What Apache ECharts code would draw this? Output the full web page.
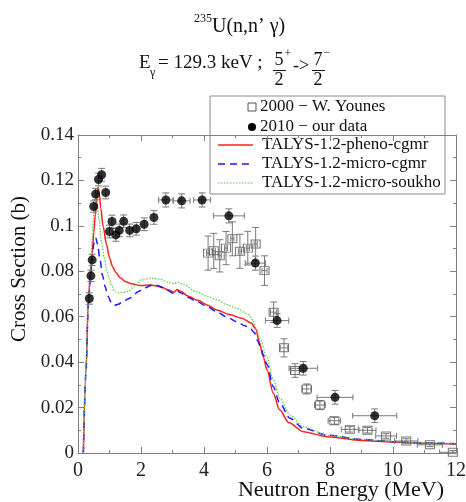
<!DOCTYPE html>
<html>
<head>
<meta charset="utf-8">
<script src="https://cdn.jsdelivr.net/npm/echarts@6/dist/echarts.min.js"></script>
<style>
  html, body { margin: 0; padding: 0; background: #fff; }
  #chart { width: 466px; height: 502px; }
</style>
</head>
<body>
<div id="chart"></div>
<script>
// 235U(n,n' gamma) 129.3 keV line: measured points and TALYS-1.2 calculations

// 2000 - W. Younes: [energy MeV, cross section b, energy half-width, sigma error]
const younesX    = [4.13, 4.31, 4.50, 4.70, 4.90, 5.14, 5.39, 5.64, 5.92, 6.21, 6.54, 6.89, 7.26, 7.68, 8.14, 8.63, 9.19, 9.78, 10.42, 11.17, 11.90];
const younesY    = [0.0880, 0.0890, 0.0868, 0.0902, 0.0943, 0.0888, 0.0902, 0.0920, 0.0803, 0.0620, 0.0463, 0.0363, 0.0282, 0.0211, 0.0142, 0.0104, 0.0100, 0.0075, 0.0053, 0.0036, 0.0003];
const younesXErr = [0.05, 0.05, 0.05, 0.05, 0.05, 0.05, 0.05, 0.05, 0.08, 0.10, 0.12, 0.13, 0.15, 0.17, 0.20, 0.27, 0.27, 0.33, 0.37, 0.40, 0.42];
const younesYErr = [0.0075, 0.0077, 0.0071, 0.0073, 0.0075, 0.0075, 0.0074, 0.0073, 0.0065, 0.0045, 0.0040, 0.0030, 0.0022, 0.0020, 0.0015, 0.0012, 0.0012, 0.0010, 0.0010, 0.0008, 0.0008];

// 2010 - our data
const ourX    = [0.36, 0.41, 0.45, 0.50, 0.56, 0.65, 0.75, 0.88, 1.00, 1.08, 1.20, 1.31, 1.45, 1.64, 1.85, 2.10, 2.41, 2.79, 3.29, 3.94, 4.79, 5.63, 6.32, 7.15, 8.16, 9.42];
const ourY    = [0.0680, 0.0780, 0.0850, 0.1085, 0.1140, 0.1204, 0.1225, 0.1147, 0.0975, 0.1019, 0.0960, 0.0980, 0.1020, 0.0980, 0.0987, 0.1007, 0.1037, 0.1114, 0.1110, 0.1114, 0.1044, 0.0836, 0.0583, 0.0373, 0.0245, 0.0164];
const ourXErr = [0, 0, 0, 0, 0, 0, 0, 0, 0, 0, 0, 0, 0, 0, 0, 0, 0, 0.23, 0.27, 0.27, 0.49, 0.32, 0.37, 0.45, 0.57, 0.70];
const ourYErr = [0.0025, 0.0025, 0.0025, 0.0025, 0.0025, 0.0028, 0.0028, 0.0028, 0.0028, 0.0028, 0.0028, 0.0028, 0.0028, 0.0028, 0.0028, 0.0028, 0.0030, 0.0031, 0.0031, 0.0031, 0.0031, 0.0031, 0.0030, 0.0030, 0.0030, 0.0030];

// TALYS-1.2-pheno-cgmr
const phenoE  = [0.17, 0.25, 0.33, 0.40, 0.45, 0.50, 0.55, 0.60, 0.64, 0.68, 0.72, 0.80, 0.90, 1.00, 1.10, 1.20, 1.35, 1.50, 1.70, 2.00, 2.30, 2.60, 2.90, 3.05, 3.15, 3.25, 3.50, 3.80, 4.10, 4.40, 4.80, 5.20, 5.50, 5.65, 5.75, 5.88, 6.00, 6.20, 6.40, 6.70, 7.15, 7.90, 9.00, 10.0, 11.0, 12.0];
const phenoXS = [0.0, 0.035, 0.068, 0.080, 0.088, 0.097, 0.105, 0.113, 0.117, 0.114, 0.108, 0.0997, 0.092, 0.086, 0.082, 0.0795, 0.077, 0.0755, 0.0745, 0.0737, 0.0740, 0.0733, 0.0717, 0.0708, 0.0720, 0.0713, 0.0690, 0.0672, 0.0652, 0.0630, 0.0610, 0.0593, 0.0572, 0.0545, 0.0490, 0.0424, 0.0366, 0.0263, 0.0190, 0.0133, 0.0094, 0.0072, 0.0055, 0.0048, 0.0043, 0.0040];

// TALYS-1.2-micro-cgmr
const microE  = [0.17, 0.25, 0.33, 0.40, 0.45, 0.50, 0.56, 0.62, 0.70, 0.78, 0.86, 0.95, 1.07, 1.15, 1.28, 1.45, 1.70, 1.90, 2.13, 2.40, 2.70, 3.03, 3.15, 3.25, 3.50, 3.77, 4.10, 4.40, 4.70, 5.04, 5.30, 5.46, 5.60, 5.70, 5.80, 5.88, 6.00, 6.20, 6.40, 6.73, 7.15, 7.90, 9.00, 10.0, 11.0, 12.0];
const microXS = [0.0, 0.035, 0.066, 0.078, 0.086, 0.092, 0.0948, 0.092, 0.085, 0.078, 0.0733, 0.069, 0.066, 0.065, 0.0655, 0.067, 0.0685, 0.071, 0.0728, 0.0742, 0.0728, 0.0703, 0.0715, 0.0705, 0.0685, 0.0667, 0.0645, 0.0622, 0.0600, 0.0578, 0.0560, 0.0550, 0.0530, 0.0495, 0.0465, 0.0432, 0.0390, 0.0292, 0.0220, 0.0153, 0.0109, 0.0079, 0.0060, 0.0050, 0.0044, 0.0041];

// TALYS-1.2-micro-soukho
const soukhoE  = [0.17, 0.25, 0.33, 0.40, 0.45, 0.50, 0.55, 0.60, 0.66, 0.75, 0.83, 0.91, 1.00, 1.07, 1.18, 1.30, 1.45, 1.60, 1.80, 2.02, 2.30, 2.60, 2.90, 3.05, 3.15, 3.30, 3.77, 4.10, 4.40, 4.70, 5.04, 5.40, 5.55, 5.65, 5.80, 5.99, 6.20, 6.41, 6.73, 7.15, 7.90, 9.00, 10.0, 11.0, 12.0];
const soukhoXS = [0.0, 0.035, 0.068, 0.082, 0.094, 0.105, 0.112, 0.111, 0.103, 0.0924, 0.086, 0.0806, 0.0765, 0.0735, 0.0710, 0.0705, 0.0707, 0.0712, 0.0735, 0.0762, 0.0770, 0.0765, 0.0750, 0.0745, 0.0752, 0.0745, 0.0710, 0.0690, 0.0674, 0.0655, 0.0637, 0.0612, 0.0585, 0.0550, 0.0495, 0.0424, 0.0322, 0.0241, 0.0167, 0.0116, 0.0079, 0.0060, 0.0050, 0.0044, 0.0041];

const xTickLabels = ['0', '2', '4', '6', '8', '10', '12'];
const yTickLabels = ['0', '0.02', '0.04', '0.06', '0.08', '0.1', '0.12', '0.14'];

const seriesNames = ['2000 \u2212 W. Younes', '2010 \u2212 our data', 'TALYS-1.2-pheno-cgmr', 'TALYS-1.2-micro-cgmr', 'TALYS-1.2-micro-soukho'];

const SERIF = '"Liberation Serif", "Times New Roman", serif';
const BAR_COLOR = '#7a7a7a';

const zip = (a, b) => a.map((v, i) => [v, b[i]]);
const zip4 = (a, b, c, d) => a.map((v, i) => [v, b[i], c[i], d[i]]);

// error bars with end caps, drawn in data coordinates
function errorBars(params, api) {
  const x = api.value(0), y = api.value(1), dx = api.value(2), dy = api.value(3);
  const c = api.coord([x, y]);
  const kids = [];
  const st = { stroke: BAR_COLOR, lineWidth: 1 };
  if (dy > 0) {
    const top = api.coord([x, y + dy]), bot = api.coord([x, y - dy]);
    kids.push({ type: 'line', shape: { x1: c[0], y1: top[1], x2: c[0], y2: bot[1] }, style: st });
    kids.push({ type: 'line', shape: { x1: c[0] - 3.5, y1: top[1], x2: c[0] + 3.5, y2: top[1] }, style: st });
    kids.push({ type: 'line', shape: { x1: c[0] - 3.5, y1: bot[1], x2: c[0] + 3.5, y2: bot[1] }, style: st });
  }
  if (dx > 0) {
    const l = api.coord([x - dx, y]), r = api.coord([x + dx, y]);
    kids.push({ type: 'line', shape: { x1: l[0], y1: c[1], x2: r[0], y2: c[1] }, style: st });
    kids.push({ type: 'line', shape: { x1: l[0], y1: c[1] - 3, x2: l[0], y2: c[1] + 3 }, style: st });
    kids.push({ type: 'line', shape: { x1: r[0], y1: c[1] - 3, x2: r[0], y2: c[1] + 3 }, style: st });
  }
  return { type: 'group', children: kids };
}

function axisCommon() {
  return {
    axisLine: { show: true, onZero: false, lineStyle: { color: '#808080', width: 1 } },
    axisTick: { show: true, inside: true, length: 6, lineStyle: { color: '#808080' } },
    minorTick: { show: true, splitNumber: 2, length: 3, lineStyle: { color: '#808080' } },
    splitLine: { show: false },
    minorSplitLine: { show: false }
  };
}

const labelFont = { fontFamily: SERIF, color: '#222' };

// legend drawn as a boxed key in the upper right
function legendGraphic() {
  const x0 = 210, y0 = 96, w = 235, h = 98;
  const rows = [107, 127, 145, 164, 183];
  const items = [
    { type: 'rect', shape: { x: x0, y: y0, width: w, height: h }, style: { fill: '#fff', stroke: '#8a8a8a', lineWidth: 1 } },
    { type: 'rect', shape: { x: 248, y: rows[0] - 4, width: 8, height: 8 }, style: { fill: '#fff', stroke: '#555', lineWidth: 1 } },
    { type: 'circle', shape: { cx: 252, cy: rows[1], r: 4 }, style: { fill: '#000' } },
    { type: 'line', shape: { x1: 218, y1: rows[2], x2: 253, y2: rows[2] }, style: { stroke: '#ff2020', lineWidth: 1.5 } },
    { type: 'line', shape: { x1: 218, y1: rows[3], x2: 253, y2: rows[3] }, style: { stroke: '#1a1aff', lineWidth: 1.5, lineDash: [7, 5] } },
    { type: 'line', shape: { x1: 218, y1: rows[4], x2: 253, y2: rows[4] }, style: { stroke: '#55cc44', lineWidth: 1.2, lineDash: [1.5, 1.5] } }
  ];
  seriesNames.forEach((n, i) => {
    items.push({
      type: 'text', x: i < 2 ? 260 : 262, y: rows[i],
      style: { text: n, font: '17px ' + SERIF, fill: '#111', textVerticalAlign: 'middle' }
    });
  });
  return { type: 'group', z: 100, children: items };
}

function titleGraphic() {
  const t = (text, x, y, size, align) => ({
    type: 'text', x, y,
    style: { text, font: size + 'px ' + SERIF, fill: '#111', textAlign: align || 'left', textVerticalAlign: 'middle' }
  });
  const bar = (x1, x2, y) => ({ type: 'line', shape: { x1, y1: y, x2, y2: y }, style: { stroke: '#111', lineWidth: 1 } });
  return {
    type: 'group', z: 100,
    children: [
      t('235', 194, 19, 12),
      t('U(n,n\u2019 \u03b3)', 212, 27, 20),
      t('E', 139, 63, 19),
      t('\u03b3', 150, 73, 12),
      t('= 129.3 keV ;', 158, 63, 19),
      t('5', 279, 60, 18, 'center'),
      t('+', 288, 54, 12, 'center'),
      bar(273, 286, 70.5),
      t('2', 279, 80, 18, 'center'),
      t('->', 293, 66, 18),
      t('7', 318, 60, 18, 'center'),
      t('\u2212', 327, 53, 12, 'center'),
      bar(312, 325, 70.5),
      t('2', 318, 80, 18, 'center')
    ]
  };
}

const chart = echarts.init(document.getElementById('chart'), null, { renderer: 'canvas' });

chart.setOption({
  backgroundColor: '#fff',
  animation: false,
  grid: { left: 78, right: 10, top: 135, bottom: 49, containLabel: false, outerBoundsMode: 'none' },
  xAxis: [
    Object.assign({
      type: 'value', min: 0, max: 12, interval: 2, position: 'bottom',
      name: 'Neutron Energy (MeV)', nameLocation: 'middle', nameGap: 26, nameMoveOverlap: false,
      nameTextStyle: { fontFamily: SERIF, fontSize: 22, color: '#111', padding: [0, 0, 0, 148] },
      axisLabel: Object.assign({ fontSize: 20, margin: 8, formatter: v => xTickLabels[Math.round(v / 2)] }, labelFont)
    }, axisCommon()),
    Object.assign({
      type: 'value', min: 0, max: 12, interval: 2, position: 'top', show: true,
      axisLabel: { show: false }
    }, axisCommon())
  ],
  yAxis: [
    Object.assign({
      type: 'value', min: 0, max: 0.14, interval: 0.02, position: 'left',
      name: 'Cross Section (b)', nameLocation: 'middle', nameGap: 48, nameRotate: 90, nameMoveOverlap: false,
      nameTextStyle: { fontFamily: SERIF, fontSize: 21, color: '#111', padding: [0, 0, 0, 50] },
      axisLabel: Object.assign({ fontSize: 19, margin: 4, formatter: v => yTickLabels[Math.round(v / 0.02)] }, labelFont)
    }, axisCommon()),
    Object.assign({
      type: 'value', min: 0, max: 0.14, interval: 0.02, position: 'right', show: true,
      axisLabel: { show: false }
    }, axisCommon())
  ],
  series: [
    {
      name: seriesNames[2], type: 'line', data: zip(phenoE, phenoXS), showSymbol: false,
      smooth: 0.3, smoothMonotone: 'x', clip: true, z: 3,
      lineStyle: { color: '#ff2020', width: 1.5 }
    },
    {
      name: seriesNames[3], type: 'line', data: zip(microE, microXS), showSymbol: false,
      smooth: 0.3, smoothMonotone: 'x', clip: true, z: 3,
      lineStyle: { color: '#1a1aff', width: 1.5, type: [7, 5] }
    },
    {
      name: seriesNames[4], type: 'line', data: zip(soukhoE, soukhoXS), showSymbol: false,
      smooth: 0.3, smoothMonotone: 'x', clip: true, z: 3,
      lineStyle: { color: '#55cc44', width: 1.2, type: [1.5, 1.5] }
    },
    {
      type: 'custom', renderItem: errorBars, z: 4, clip: true,
      data: zip4(younesX, younesY, younesXErr, younesYErr)
    },
    {
      type: 'custom', renderItem: errorBars, z: 4, clip: true,
      data: zip4(ourX, ourY, ourXErr, ourYErr)
    },
    {
      name: seriesNames[0], type: 'scatter', data: zip(younesX, younesY), z: 5,
      symbol: 'rect', symbolSize: [9, 8],
      itemStyle: { color: 'rgba(0,0,0,0)', borderColor: '#555', borderWidth: 1 }
    },
    {
      name: seriesNames[1], type: 'scatter', data: zip(ourX, ourY), z: 6,
      symbol: 'circle', symbolSize: 9,
      itemStyle: { color: '#000' }
    }
  ],
  graphic: [titleGraphic(), legendGraphic()]
});
</script>
</body>
</html>
